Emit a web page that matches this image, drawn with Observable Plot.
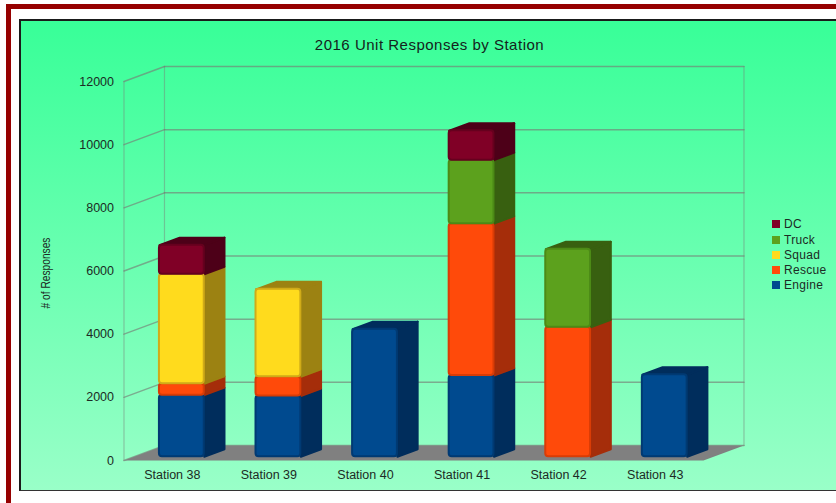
<!DOCTYPE html>
<html><head><meta charset="utf-8">
<script src="https://cdn.jsdelivr.net/npm/d3@7"></script>
<script src="https://cdn.jsdelivr.net/npm/@observablehq/plot@0.6"></script>
<style>
html,body{margin:0;padding:0;background:#fff;overflow:hidden;width:836px;height:503px;font-family:"Liberation Sans",sans-serif}
#red{position:absolute;left:6px;top:4px;width:900px;height:600px;border-left:5px solid #960000;border-top:5px solid #960000}
#panel{position:absolute;left:19px;top:19px;width:900px;height:469px;border-left:2px solid #1a1a1a;border-top:2px solid #1a1a1a;border-bottom:1px solid #333;background:linear-gradient(#38ff98,#99ffc8)}
#chart{position:absolute;left:0;top:0}
#title{position:absolute;left:229.5px;width:400px;top:35.5px;text-align:center;font-size:15px;letter-spacing:.5px;color:#14231c}
#ylab{position:absolute;left:46px;top:273px;font-size:12px;color:#1c2b24;white-space:nowrap;transform:translate(-50%,-50%) rotate(-90deg) scaleX(.85)}
.sw{position:absolute;left:772px;width:8px;height:8px}
.lg{position:absolute;left:784px;font-size:12px;letter-spacing:.3px;color:#1c2b24;line-height:14px}
svg text{fill:#1c2b24}
</style></head><body>
<div id="red"></div><div id="panel"></div>
<div id="chart"></div>
<div id="title">2016 Unit Responses by Station</div>
<div id="ylab"># of Responses</div>
<div id="legend"></div>
<script>
const stations = ["Station 38","Station 39","Station 40","Station 41","Station 42","Station 43"];
const engine = [1950,1920,4040,2570,0,2600];
const rescue = [360,610,0,4810,4100,0];
const squad  = [3470,2770,0,0,0,0];
const truck  = [0,0,0,2010,2470,0];
const dc     = [920,0,0,930,0,0];
const yTicks = [0,2000,4000,6000,8000,10000,12000];

const seriesNames = ["Engine","Rescue","Squad","Truck","DC"];
const seriesValues = [engine,rescue,squad,truck,dc];
const frontColors = ["#004a8f","#ff4a0a","#ffdb1d","#5ca11d","#800026"];
const sideColors  = ["#002d5c","#a52d0a","#9c8212","#386010","#4d0018"];
const edgeColors  = ["#003a73","#d93c06","#d0ab18","#4c8a16","#66001e"];

// oblique projection: depth 0 = front plane, depth 1 = back wall (in x-band and value units)
const DX = 40.5/96.6, DY = 15/(379/12000);
const P = (x,v,d)=>({x:x+d*DX,y:v+d*DY});
const poly = (id,pts)=>[...pts,pts[0]].map(p=>({id,...p}));
const n = stations.length, yMax = yTicks[yTicks.length-1];

const fronts=[], sides=seriesNames.map(()=>[]);
stations.forEach((s,i)=>{
  let base=0;
  const top = seriesValues.reduce((m,a)=>m+a[i],0);
  seriesValues.forEach((vals,k)=>{
    const v=vals[i]; if(!v) return;
    const l=i+.262,r=i+.726,d0=.25,d1=.75,b=base,t=base+v;
    const a=P(l,b,d0),c=P(r,t,d0);
    fronts.push({x1:a.x,x2:c.x,y1:a.y,y2:c.y,k});
    sides[k].push(...poly(`s${i}`,[P(r,b,d0),P(r,t,d0),P(r,t,d1),P(r,b,d1)]));
    if(t===top) sides[k].push(...poly(`t${i}`,[P(l,t,d0),P(r,t,d0),P(r,t,d1),P(l,t,d1)]));
    base=t;
  });
});
const gridBack = yTicks.flatMap(v=>[{id:v,...P(0,v,1)},{id:v,...P(n,v,1)}]);
const gridLeft = yTicks.flatMap(v=>[{id:v,...P(0,v,0)},{id:v,...P(0,v,1)}]);
const verts = [
  [{id:"a",...P(0,0,0)},{id:"a",...P(0,yMax,0)}],
  [{id:"b",...P(0,0,1)},{id:"b",...P(0,yMax,1)}],
  [{id:"c",...P(n,0,1)},{id:"c",...P(n,yMax,1)}]
].flat();
const floor = poly("f",[P(0,0,0),P(n,0,0),P(n,0,1),P(0,0,1)]);
const gridStyle={x:"x",y:"y",z:"id",stroke:"#777f77",strokeOpacity:.65};

const plot = Plot.plot({
  width:836,height:503,
  marginLeft:123.5,marginRight:133,marginTop:81,marginBottom:43,
  style:{background:"transparent",fontFamily:"Liberation Sans",fontSize:"12px"},
  x:{domain:[0,n],axis:null},
  y:{domain:[0,yMax],axis:null},
  marks:[
    Plot.line(verts,{...gridStyle,strokeWidth:1.2,strokeOpacity:.45}),
    Plot.line(gridBack,{...gridStyle,strokeWidth:1.5}),
    Plot.line(gridLeft,{...gridStyle,strokeWidth:1.5}),
    Plot.line(floor,{x:"x",y:"y",z:"id",fill:"#808080",stroke:"none"}),
    ...seriesNames.map((_,k)=>Plot.line(sides[k],{x:"x",y:"y",z:"id",fill:sideColors[k],stroke:sideColors[k],strokeWidth:2})),
    ...seriesNames.map((_,k)=>Plot.rect(fronts.filter(f=>f.k===k),{x1:"x1",x2:"x2",y1:"y1",y2:"y2",fill:frontColors[k],stroke:edgeColors[k],strokeWidth:2,rx:3})),
    Plot.axisY({ticks:yTicks,tickSize:0,tickPadding:10,label:null,tickFormat:d=>String(d),fontSize:12.5}),
    Plot.axisX({ticks:stations.map((_,i)=>i+.5),tickSize:0,tickPadding:10,label:null,tickFormat:d=>stations[d-.5],fontSize:12.5,style:{letterSpacing:"1.05px"}})
  ]
});
document.getElementById("chart").append(plot);
const lg=document.getElementById("legend");
const rows=[4,3,2,1,0];
rows.forEach((k,r)=>{
  const y=224.4+r*15.2;
  const s=document.createElement("div");s.className="sw";s.style.top=(y-4)+"px";s.style.background=frontColors[k];lg.append(s);
  const t=document.createElement("div");t.className="lg";t.style.top=(y-7)+"px";t.textContent=seriesNames[k];lg.append(t);
});
</script></body></html>
